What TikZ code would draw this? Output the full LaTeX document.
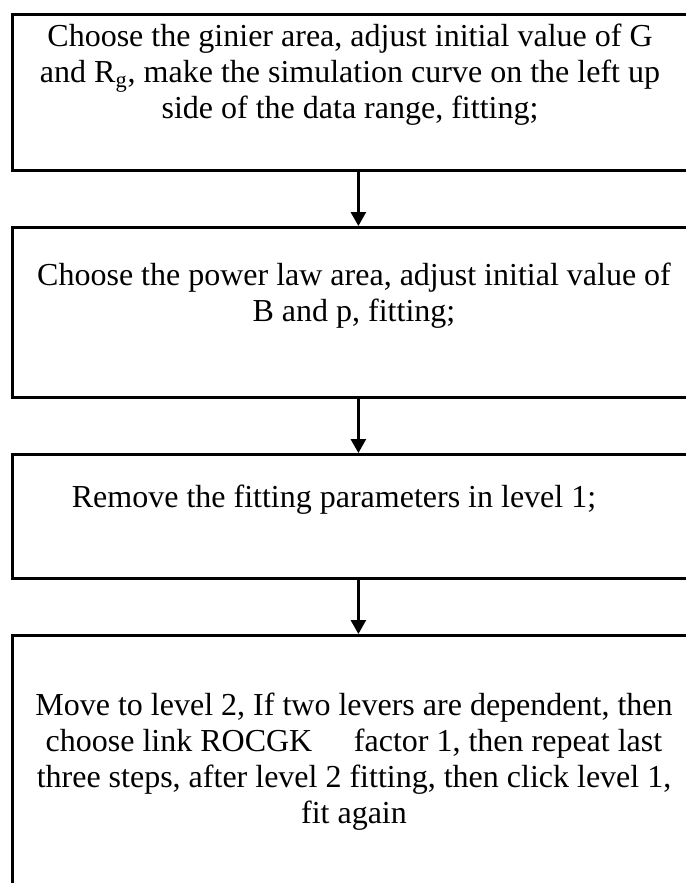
\documentclass[tikz,border=0pt]{standalone}
\usepackage{fontspec}
\setmainfont{Liberation Serif}
\usetikzlibrary{arrows.meta,positioning}

\begin{document}
\begin{tikzpicture}[x=0.5pt,y=-0.5pt,>={Triangle[length=7pt,width=7.5pt]},line width=1.4pt,
  stepbox/.style={draw,minimum width=346pt,anchor=north west,inner sep=0pt},
  steptext/.style={font=\fontsize{16}{18}\selectfont,align=center}]
  \useasboundingbox (0,0) rectangle (685,883);

  % the four boxes, cut off on the right and at the bottom
  \node[stepbox,minimum height=78pt] (b1) at (11,13) {};
  \node[stepbox,minimum height=85pt] (b2) at (11,226) {};
  \node[stepbox,minimum height=62pt] (b3) at (11,453) {};
  \node[stepbox,minimum height=160pt] (b4) at (11,634) {};

  % texts
  \node[steptext] (t1) at (350,75) {Choose the ginier area, adjust initial value of G\\
    and R\textsubscript{g}, make the simulation curve on the left up\\
    side of the data range, fitting;};
  \node[steptext] (t2) at (354,296) {Choose the power law area, adjust initial value of\\
    B and p, fitting;};
  \node[steptext] (t3) at (334,500) {Remove the fitting parameters in level 1;};
  \node[steptext] (t4) at (354,762) {Move to level 2, If two levers are dependent, then\\
    choose link ROCGK\hspace{1.3em}factor 1, then repeat last\\
    three steps, after level 2 fitting, then click level 1,\\
    fit again};

  % arrows
  \foreach \a/\b in {b1/b2,b2/b3,b3/b4}
    \draw[->] (\a.south) -- (\b.north);
\end{tikzpicture}
\end{document}
